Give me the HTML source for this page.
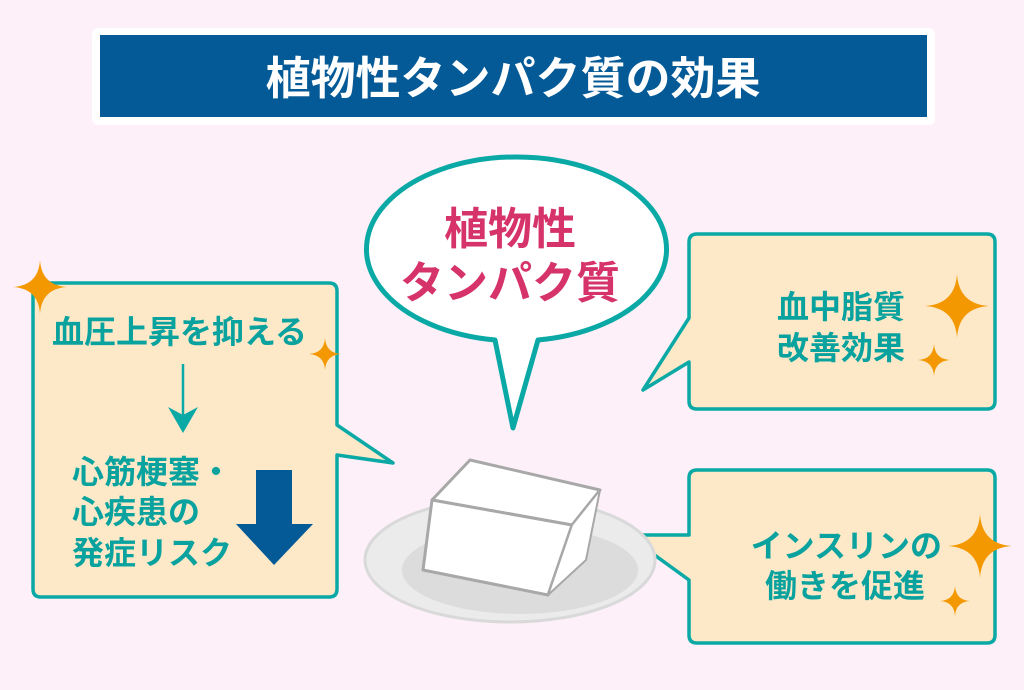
<!DOCTYPE html>
<html><head><meta charset="utf-8"><style>
body{margin:0;width:1024px;height:685px;background:#fdf0f8;overflow:hidden;font-family:"Liberation Sans","Noto Sans CJK JP",sans-serif;}
svg text{font-family:"Liberation Sans","Noto Sans CJK JP",sans-serif;font-weight:bold;}
</style></head><body>
<svg width="1024" height="685" viewBox="0 0 1024 685">
<defs>
<symbol id="sp" viewBox="-10 -10 20 20"><path d="M0,-10 Q0.6,-0.6 10,0 Q0.6,0.6 0,10 Q-0.6,0.6 -10,0 Q-0.6,-0.6 0,-10Z" fill="#f39800"/></symbol>
</defs>
<rect x="92" y="28" width="843" height="97" rx="6" fill="#fff"/>
<rect x="100" y="35" width="827" height="82" fill="#045a96"/>
<text x="513" y="94" font-size="45" fill="#fff" text-anchor="middle">植物性タンパク質の効果</text>

<path d="M41,283 H329 Q337,283 337,291 V425 L393,463 L337,455 V589 Q337,597 329,597 H41 Q33,597 33,589 V291 Q33,283 41,283Z" fill="#fde9c8" stroke="#0aa9a6" stroke-width="3.5" stroke-linejoin="round"/>
<text x="52" y="343" font-size="32" fill="#0aa29e">血圧上昇を抑える</text>
<line x1="183" y1="364" x2="183" y2="425" stroke="#0aa9a6" stroke-width="2.5"/>
<path d="M168,407 L183,433 L198,407 L183,415Z" fill="#0aa9a6"/>
<text x="72" y="483" font-size="32" fill="#0aa29e">心筋梗塞・</text>
<text x="72" y="523" font-size="32" fill="#0aa29e">心疾患の</text>
<text x="72" y="564" font-size="32" fill="#0aa29e">発症リスク</text>
<path d="M256,470 H292 V524 H313 L274,565 L236,524 H256Z" fill="#045a96"/>
<use href="#sp" x="13" y="252" width="54" height="70"/>
<use href="#sp" x="309" y="334" width="32" height="40"/>

<path d="M495,340 A150,92 0 1 1 538,340 L513,428Z" fill="#fff" stroke="#0aa9a6" stroke-width="5" stroke-linejoin="round"/>
<text x="510" y="244" font-size="44" fill="#d6336a" text-anchor="middle">植物性</text>
<text x="510" y="298" font-size="44" fill="#d6336a" text-anchor="middle">タンパク質</text>

<path d="M697,234 H987 Q995,234 995,242 V401 Q995,409 987,409 H697 Q689,409 689,401 V362 L643,390 L689,318 V242 Q689,234 697,234Z" fill="#fde9c8" stroke="#0aa9a6" stroke-width="3.5" stroke-linejoin="round"/>
<text x="905" y="318" font-size="32" fill="#0aa29e" text-anchor="end">血中脂質</text>
<text x="905" y="359" font-size="32" fill="#0aa29e" text-anchor="end">改善効果</text>
<use href="#sp" x="925" y="265" width="64" height="82"/>
<use href="#sp" x="918" y="340" width="32" height="40"/>

<path d="M697,470 H987 Q995,470 995,478 V635 Q995,643 987,643 H697 Q689,643 689,635 V580 L627,535 L689,535 V478 Q689,470 697,470Z" fill="#fde9c8" stroke="#0aa9a6" stroke-width="3.5" stroke-linejoin="round"/>
<text x="942" y="557" font-size="32" fill="#0aa29e" text-anchor="end">インスリンの</text>
<text x="925" y="597" font-size="32" fill="#0aa29e" text-anchor="end">働きを促進</text>
<use href="#sp" x="948" y="505" width="64" height="82"/>
<use href="#sp" x="940" y="580" width="30" height="42"/>

<ellipse cx="510" cy="560" rx="145" ry="62" fill="#ebebeb" stroke="#d9d9d9" stroke-width="3"/>
<ellipse cx="520" cy="570" rx="118" ry="44" fill="#dcdcdc"/>
<path d="M432,500 L470,460 L600,490 L572,525Z" fill="#fff" stroke="#a8a8a8" stroke-width="3" stroke-linejoin="round"/>
<path d="M432,500 L572,525 L548,595 L423,570Z" fill="#fff" stroke="#a8a8a8" stroke-width="3" stroke-linejoin="round"/>
<path d="M572,525 L600,490 L586,560 L548,595Z" fill="#fff" stroke="#a8a8a8" stroke-width="2" stroke-linejoin="round"/>
</svg>
</body></html>
